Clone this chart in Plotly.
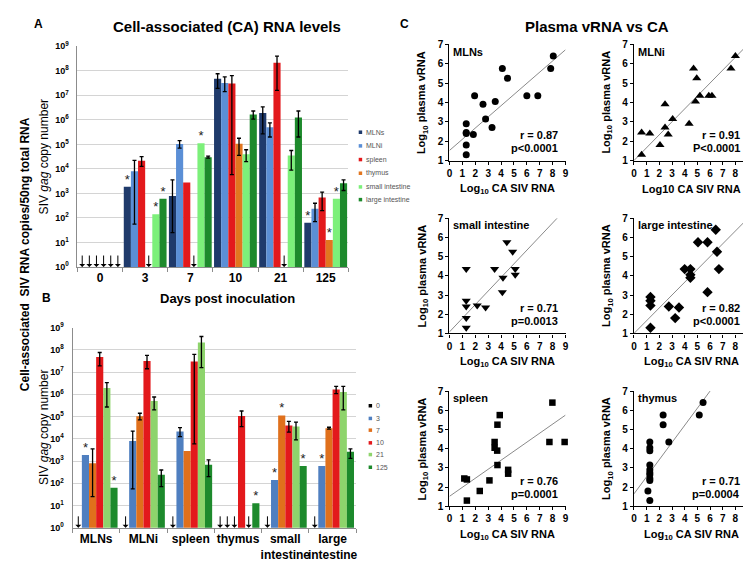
import plotly.graph_objects as go

W, H = 751, 561
def fx(p): return p / W
def fy(p): return 1 - p / H

FONT = "Arial, Liberation Sans, sans-serif"

# ---------------- data: panels A & B (log10 copies) ----------------
organs = ["MLNs", "MLNi", "spleen", "thymus", "small intestine", "large intestine"]
organ_ticks = ["MLNs", "MLNi", "spleen", "thymus", "small<br>intestine", "large<br>intestine"]
days = ["0", "3", "7", "10", "21", "125"]

mlns_log     = [None, 3.27, 2.90, 7.68, 6.28, 1.80]
mlni_log     = [None, 3.90, 5.02, 7.50, 5.70, 2.38]
spleen_log   = [None, 4.33, 3.45, 7.48, 8.33, 2.83]
thymus_log   = [None, None, None, 5.03, None, 1.10]
smallint_log = [None, 2.15, 5.05, 4.60, 4.55, 2.78]
largeint_log = [None, 2.78, 4.48, 6.22, 6.10, 3.42]

mlns_hi     = [None, None, 3.55, 7.88, 6.53, None]
mlns_lo     = [None, None, 1.40, 7.28, 5.43, None]
mlni_hi     = [None, 4.35, 5.15, 7.75, 5.88, 2.60]
mlni_lo     = [None, 1.75, 4.85, 7.15, 5.30, 1.85]
spleen_hi   = [None, 4.50, None, 7.80, 8.60, 3.05]
spleen_lo   = [None, 4.10, None, 3.77, 7.20, 2.30]
thymus_hi   = [None, None, None, 5.25, None, None]
thymus_lo   = [None, None, None, 4.55, None, None]
smallint_hi = [None, None, None, 4.78, 4.75, None]
smallint_lo = [None, None, None, 4.30, 3.95, None]
largeint_hi = [None, None, 4.52, 6.36, 6.36, 3.55]
largeint_lo = [None, None, 4.44, 6.03, 5.30, 3.12]

mlns_star     = [0, 1, 0, 0, 0, 1]
mlni_star     = [0, 0, 0, 0, 0, 0]
spleen_star   = [0, 0, 0, 0, 0, 0]
thymus_star   = [0, 0, 0, 0, 0, 1]
smallint_star = [0, 1, 1, 0, 0, 1]
largeint_star = [0, 1, 0, 0, 0, 0]

organ_colors = ["#1f3a6b", "#5b8fd6", "#e3191c", "#e2761f", "#7cf07a", "#1d8a2c"]
day_colors = ["#000000", "#4f7fc0", "#e0701c", "#e3191c", "#8ed46c", "#1d8a2c"]

LOG = [mlns_log, mlni_log, spleen_log, thymus_log, smallint_log, largeint_log]
HI = [mlns_hi, mlni_hi, spleen_hi, thymus_hi, smallint_hi, largeint_hi]
LO = [mlns_lo, mlni_lo, spleen_lo, thymus_lo, smallint_lo, largeint_lo]
STAR = [mlns_star, mlni_star, spleen_star, thymus_star, smallint_star, largeint_star]

# ---------------- data: panel C scatters ----------------
mlns_x = [1.3, 1.3, 1.3, 1.3, 1.3, 1.85, 1.95, 2.6, 2.8, 3.3, 3.55, 4.1, 4.5, 6.0, 6.85, 7.85, 8.05]
mlns_y = [2.9, 2.45, 2.4, 1.8, 1.3, 2.35, 4.35, 3.9, 3.15, 2.7, 4.05, 5.75, 5.25, 4.35, 4.35, 5.75, 6.4]
mlni_x = [0.6, 0.6, 1.25, 2.05, 2.45, 2.7, 3.05, 2.45, 4.35, 4.7, 4.95, 5.2, 4.85, 5.9, 6.15, 7.65, 8.0]
mlni_y = [1.3, 2.45, 2.4, 1.8, 2.7, 2.35, 3.15, 3.9, 2.9, 5.75, 5.25, 4.35, 4.05, 4.35, 4.35, 5.75, 6.4]
si_x = [1.3, 1.3, 1.3, 1.3, 1.3, 2.15, 2.8, 3.5, 4.15, 4.1, 4.45, 4.9, 5.1, 5.1]
si_y = [4.35, 2.7, 2.4, 1.8, 1.3, 2.45, 2.35, 4.35, 3.9, 3.15, 5.75, 5.25, 4.35, 4.05]
li_x = [1.3, 1.3, 1.3, 1.3, 2.75, 3.25, 3.55, 4.0, 4.45, 4.45, 4.45, 5.05, 5.8, 5.8, 6.45, 6.55, 6.7]
li_y = [2.9, 2.7, 2.45, 1.3, 2.4, 1.8, 2.35, 4.35, 4.35, 4.05, 3.9, 5.75, 5.75, 3.15, 6.4, 5.25, 4.35]
spleen_x = [1.15, 1.35, 1.35, 2.35, 3.1, 3.5, 3.5, 3.7, 3.72, 3.9, 3.72, 4.55, 4.55, 7.75, 7.98, 8.93]
spleen_y = [2.45, 2.4, 1.3, 1.8, 2.35, 4.35, 4.05, 3.9, 5.25, 5.75, 3.15, 2.9, 2.7, 4.35, 6.4, 4.35]
thymus_x = [1.1, 1.25, 1.25, 1.25, 1.25, 1.25, 1.25, 1.25, 1.25, 1.25, 1.25, 2.3, 2.3, 2.75, 5.15, 5.45]
thymus_y = [1.8, 4.35, 4.05, 3.9, 3.15, 2.9, 2.75, 2.65, 2.45, 2.35, 1.3, 5.75, 5.25, 4.35, 5.75, 6.4]

fit_mlns = ([0, 9], [1.52, 6.72])
fit_mlni = ([0, 9], [1.0, 7.0])
fit_si = ([0, 8.35], [1.08, 7.0])
fit_li = ([0, 9], [1.0, 7.0])
fit_spleen = ([0, 9], [1.52, 5.75])
fit_thymus = ([0, 6.0], [1.65, 7.0])

scatter_panels = [
    ("MLNs", mlns_x, mlns_y, fit_mlns, "circle", 7, "r = 0.87", "p<0.0001", True),
    ("MLNi", mlni_x, mlni_y, fit_mlni, "triangle-up", 8, "r = 0.91", "P<0.0001", False),
    ("small intestine", si_x, si_y, fit_si, "triangle-down", 8, "r = 0.71", "p=0.0013", True),
    ("large intestine", li_x, li_y, fit_li, "diamond", 8, "r = 0.82", "p<0.0001", True),
    ("spleen", spleen_x, spleen_y, fit_spleen, "square", 6.5, "r = 0.76", "p=0.0001", True),
    ("thymus", thymus_x, thymus_y, fit_thymus, "circle", 7, "r = 0.71", "p=0.0004", True),
]

fig = go.Figure()
annotations = []
shapes = []

def add_bars(colors, width, xa, ya, transpose):
    n = 6
    for j in range(n):
        xs, ys = [], []
        ex, ey, eh, el = [], [], [], []
        sx, sy = [], []
        for i in range(n):
            o, d = (i, j) if transpose else (j, i)
            v = LOG[o][d]
            x = i + (j - 2.5) * width
            xs.append(x)
            ys.append(10 ** v if v is not None else None)
            if v is None:
                # below detection limit: thin down arrow ending on the axis
                annotations.append(dict(x=x, y=0, xref=xa, yref=ya, text="", showarrow=True,
                                        ax=0, ay=-13, arrowhead=1, arrowsize=1.0, arrowwidth=1,
                                        arrowcolor="black", standoff=0))
                continue
            if HI[o][d] is not None:
                ex.append(x); ey.append(10 ** v)
                eh.append(10 ** HI[o][d] - 10 ** v); el.append(10 ** v - 10 ** LO[o][d])
            if STAR[o][d]:
                sx.append(x); sy.append(10 ** v)
        fig.add_trace(go.Bar(x=xs, y=ys, width=width, marker=dict(color=colors[j], line=dict(width=0)),
                             xaxis=xa, yaxis=ya, showlegend=False, hoverinfo="skip"))
        if ex:
            fig.add_trace(go.Scatter(x=ex, y=ey, mode="markers", marker=dict(size=1, opacity=0),
                                     error_y=dict(type="data", symmetric=False, array=eh, arrayminus=el,
                                                  color="black", thickness=1.3, width=2),
                                     xaxis=xa, yaxis=ya, showlegend=False, hoverinfo="skip"))
        if sx:
            fig.add_trace(go.Scatter(x=sx, y=sy, mode="text", text=["*"] * len(sx),
                                     textposition="top center",
                                     textfont=dict(size=13, color="#222", family=FONT),
                                     xaxis=xa, yaxis=ya, showlegend=False, hoverinfo="skip", cliponaxis=False))

# Panel A: groups = days, bars = organs
add_bars(organ_colors, 0.158, "x", "y", transpose=False)
# Panel B: groups = organs, bars = days
add_bars(day_colors, 0.151, "x2", "y2", transpose=True)

logticks = [10 ** k for k in range(10)]
logtext = ["<b>10<sup>%d</sup></b>" % k for k in range(10)]

def bar_axes(xd, yd, ticktext):
    xa = dict(domain=xd, range=[-0.5, 5.5], tickmode="array", tickvals=list(range(6)), ticktext=ticktext,
              ticks="", tickangle=0, showline=True, linecolor="#8c8c8c", linewidth=1, showgrid=False,
              zeroline=False, tickfont=dict(size=12, family=FONT, color="black"),
              minor=dict(tickmode="array", tickvals=[k - 0.5 for k in range(7)], ticks="outside",
                         ticklen=4, tickcolor="#8c8c8c"),
              fixedrange=True)
    ya = dict(domain=yd, type="log", range=[0, 9], tickmode="array", tickvals=logticks, ticktext=logtext,
              showgrid=True, gridcolor="#d4d4d4", gridwidth=1, showline=True, linecolor="#8c8c8c",
              zeroline=False, ticks="", tickfont=dict(size=9, family=FONT, color="black"),
              ticklabelstandoff=6, fixedrange=True)
    return xa, ya

xa1, ya1 = bar_axes([fx(67), fx(340)], [fy(258), fy(32)], ["<b>%s</b>" % d for d in days])
xa1["anchor"] = "y"; ya1["anchor"] = "x"
xa2, ya2 = bar_axes([fx(62), fx(348)], [fy(525), fy(320)], ["<b>%s</b>" % o for o in organ_ticks])
xa2["anchor"] = "y2"; ya2["anchor"] = "x2"

layout_axes = {"xaxis": xa1, "yaxis": ya1, "xaxis2": xa2, "yaxis2": ya2}

# Panel C scatter grid
cols = [(442, 559), (628, 743)]
rows = [(30, 149), (208, 326), (385, 503)]
for k, (name, xs, ys, fit, sym, msz, rtxt, ptxt, sub) in enumerate(scatter_panels):
    r, c = divmod(k, 2)
    n = k + 3
    xn, yn = "x%d" % n, "y%d" % n
    x0, x1 = cols[c]
    y0, y1 = rows[r]
    fig.add_trace(go.Scatter(x=fit[0], y=fit[1], mode="lines", line=dict(color="#8a8a8a", width=1),
                             xaxis=xn, yaxis=yn, showlegend=False, hoverinfo="skip"))
    fig.add_trace(go.Scatter(x=xs, y=ys, mode="markers", marker=dict(symbol=sym, size=msz, color="black"),
                             xaxis=xn, yaxis=yn, showlegend=False, cliponaxis=False, hoverinfo="skip"))
    layout_axes["xaxis%d" % n] = dict(domain=[fx(x0), fx(x1)], range=[0, 9], anchor=yn, dtick=1, tick0=0,
                                      ticks="outside", ticklen=3, tickwidth=1, tickcolor="black",
                                      showline=True, linecolor="black", linewidth=1.3, showgrid=False,
                                      zeroline=False, fixedrange=True,
                                      tickfont=dict(size=10, family=FONT, color="black", weight="bold"))
    layout_axes["yaxis%d" % n] = dict(domain=[fy(y1), fy(y0)], range=[1, 7], anchor=xn, dtick=1, tick0=1,
                                      ticks="outside", ticklen=3, tickwidth=1, tickcolor="black",
                                      showline=True, linecolor="black", linewidth=1.3, showgrid=False,
                                      zeroline=False, fixedrange=True,
                                      tickfont=dict(size=10, family=FONT, color="black", weight="bold"))
    annotations.append(dict(x=0.15, y=6.62, xref=xn, yref=yn, text="<b>%s</b>" % name, showarrow=False,
                            xanchor="left", yanchor="middle", font=dict(size=11, family=FONT, color="black")))
    annotations.append(dict(x=8.55, y=2.3, xref=xn, yref=yn, text="<b>%s</b>" % rtxt, showarrow=False,
                            xanchor="right", yanchor="middle", font=dict(size=11, family=FONT, color="black")))
    annotations.append(dict(x=8.55, y=1.66, xref=xn, yref=yn, text="<b>%s</b>" % ptxt, showarrow=False,
                            xanchor="right", yanchor="middle", font=dict(size=11, family=FONT, color="black")))
    ylab = "<b>Log<sub>10</sub> plasma vRNA</b>"
    xlab = "<b>Log<sub>10</sub> CA SIV RNA</b>" if sub else "<b>Log10 CA SIV RNA</b>"
    annotations.append(dict(x=fx(x0 - 27), y=fy((y0 + y1) / 2), xref="paper", yref="paper", text=ylab,
                            textangle=-90, showarrow=False, xanchor="center", yanchor="middle",
                            font=dict(size=11, family=FONT, color="black")))
    annotations.append(dict(x=fx((x0 + x1) / 2), y=fy(y1 + 29), xref="paper", yref="paper", text=xlab,
                            showarrow=False, xanchor="center", yanchor="middle",
                            font=dict(size=11, family=FONT, color="black")))

def ptext(x, y, text, size, bold=True, angle=0, anchor="center", color="black"):
    annotations.append(dict(x=fx(x), y=fy(y), xref="paper", yref="paper",
                            text=("<b>%s</b>" % text) if bold else text, textangle=angle,
                            showarrow=False, xanchor=anchor, yanchor="middle",
                            font=dict(size=size, family=FONT, color=color)))

ptext(218, 12, "Cell-associated (CA) RNA levels", 15)
ptext(591, 12, "Plasma vRNA vs CA", 15)
ptext(28, 9, "A", 12)
ptext(36, 290, "B", 12)
ptext(397, 9, "C", 12)
ptext(218, 290, "Days post inoculation", 13)
ptext(14, 245, "Cell-associated  SIV RNA copies/50ng total RNA", 12, angle=-90)
ptext(33, 145, "SIV <i>gag</i> copy number", 12, bold=False, angle=-90)
ptext(33, 422, "SIV <i>gag</i> copy number", 12, bold=False, angle=-90)

# legends
legA_y = [120, 134, 148, 162, 176, 189]
for name, col, yy in zip(organs, organ_colors, legA_y):
    shapes.append(dict(type="rect", xref="paper", yref="paper", x0=fx(350.5), x1=fx(354), y0=fy(yy + 1.8),
                       y1=fy(yy - 1.8), fillcolor=col, line=dict(width=0)))
    ptext(356, yy, name, 7, bold=False, anchor="left", color="#555")
legB_y = [400, 413, 425, 438, 450, 463]
for name, col, yy in zip(days, day_colors, legB_y):
    shapes.append(dict(type="rect", xref="paper", yref="paper", x0=fx(360.5), x1=fx(364), y0=fy(yy + 1.8),
                       y1=fy(yy - 1.8), fillcolor=col, line=dict(width=0)))
    ptext(366, yy, name, 7, bold=False, anchor="left", color="#555")

fig.update_layout(width=W, height=H, margin=dict(l=0, r=0, t=0, b=0), plot_bgcolor="white",
                  paper_bgcolor="white", barmode="overlay", annotations=annotations, shapes=shapes,
                  font=dict(family=FONT, color="black"), showlegend=False, **layout_axes)

fig.write_html("out.html")
